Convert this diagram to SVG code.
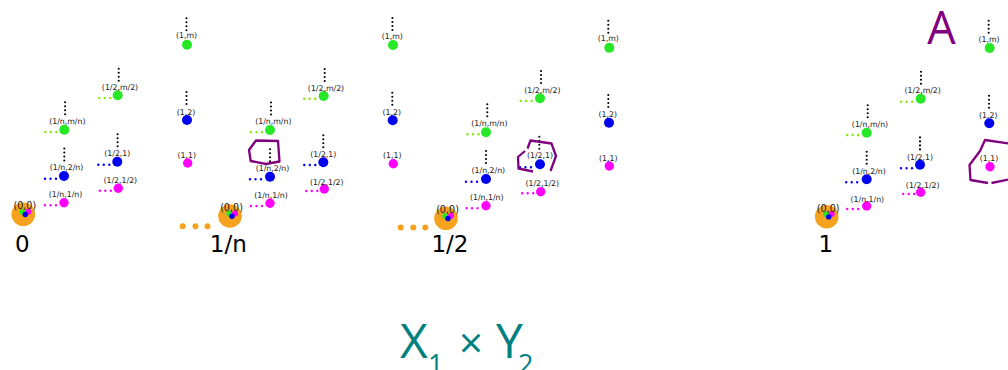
<svg xmlns="http://www.w3.org/2000/svg" width="1008" height="370" viewBox="0 0 1008 370">
<style>
.lbl{font-family:"DejaVu Sans",sans-serif;font-size:7.8px;fill:#1a1a1a;text-anchor:middle}
.olbl{font-family:"DejaVu Sans",sans-serif;font-size:9.6px;fill:#1a1a1a;text-anchor:middle}
.big{font-family:"DejaVu Sans",sans-serif;font-size:23px;fill:#000;text-anchor:middle}
.mg{fill:#ff00ff}.bl{fill:#0000f0}.gr{fill:#26e826}.or{fill:#f5a31e}
.dm,.db,.dg,.vd{fill:none;stroke-linecap:round;stroke-width:2.4;stroke-dasharray:0 5.5}
.dm{stroke:#ff00ff}.db{stroke:#0000f0}.dg{stroke:#80e800}
.vd{stroke:#000;stroke-width:2.1;stroke-dasharray:0 4}
.poly{fill:none;stroke:#800080;stroke-width:2.3;stroke-linejoin:round;stroke-linecap:butt}
</style>
<defs>
<g id="origin"><circle class="or" r="11.8"/><circle class="gr" cx="-0.7" cy="-2.4" r="3"/><circle class="mg" cx="5" cy="-2.6" r="3"/><circle class="bl" cx="2" cy="0.2" r="2.7"/><text class="olbl" x="1.5" y="-5">(0,0)</text></g>
</defs>

<!-- Panel 0 -->
<g id="p0">
<g id="p0-o"><use href="#origin" x="23.3" y="214.3"/></g>
<g id="p0-n11" transform="translate(64,202.7)"><line class="dm" x1="-19" y1="2.6" x2="-7.7" y2="2.6"/><circle class="mg" r="4.7"/><text class="lbl" x="1.5" y="-5.8">(1/n,1/n)</text></g>
<g id="p0-n21" transform="translate(64,176)"><line class="db" x1="-19" y1="2.8" x2="-7.7" y2="2.8"/><line class="vd" x1="0.3" y1="-27.5" x2="0.3" y2="-15.3"/><circle class="bl" r="5"/><text class="lbl" x="2.5" y="-5.8">(1/n,2/n)</text></g>
<g id="p0-nm" transform="translate(64.3,129.7)"><line class="dg" x1="-19" y1="2.2" x2="-7.7" y2="2.2"/><line class="vd" x1="0.8" y1="-27.5" x2="0.8" y2="-15.3"/><circle class="gr" r="5"/><text class="lbl" x="3" y="-5.8">(1/n,m/n)</text></g>
<g id="p0-h11" transform="translate(118.3,188.3)"><line class="dm" x1="-18.5" y1="2.4" x2="-7.2" y2="2.4"/><circle class="mg" r="4.7"/><text class="lbl" x="2" y="-5.2">(1/2,1/2)</text></g>
<g id="p0-h1" transform="translate(117.3,161.7)"><line class="db" x1="-19" y1="3" x2="-7.7" y2="3"/><line class="vd" x1="0.3" y1="-27.5" x2="0.3" y2="-15.3"/><circle class="bl" r="5"/><text class="lbl" x="0" y="-5.8">(1/2,1)</text></g>
<g id="p0-hm" transform="translate(117.7,95.3)"><line class="dg" x1="-18.5" y1="2.8" x2="-7.2" y2="2.8"/><line class="vd" x1="1" y1="-26.5" x2="1" y2="-14.3"/><circle class="gr" r="5"/><text class="lbl" x="2.3" y="-5.8">(1/2,m/2)</text></g>
<g id="p0-o11" transform="translate(187.7,163)"><circle class="mg" r="4.7"/><text class="lbl" x="-1" y="-5.5">(1,1)</text></g>
<g id="p0-o12" transform="translate(187,120)"><line class="vd" x1="-0.5" y1="-28" x2="-0.5" y2="-15.8"/><circle class="bl" r="5"/><text class="lbl" x="-1" y="-5.5">(1,2)</text></g>
<g id="p0-o1m" transform="translate(187,44.7)"><line class="vd" x1="-0.5" y1="-26.5" x2="-0.5" y2="-14.3"/><circle class="gr" r="5"/><text class="lbl" x="-0.5" y="-7">(1,m)</text></g>
<text class="big" x="22.3" y="252">0</text>
</g>

<!-- dots between panels -->
<g id="gap1" class="or"><circle cx="182.7" cy="226.3" r="3"/><circle cx="195.5" cy="226.3" r="3"/><circle cx="207.5" cy="226.3" r="3"/></g>

<!-- Panel 1/n -->
<g id="p1">
<g id="p1-o"><use href="#origin" x="230" y="216"/></g>
<g id="p1-n11" transform="translate(270,203.3)"><line class="dm" x1="-19" y1="2.7" x2="-7.7" y2="2.7"/><circle class="mg" r="4.7"/><text class="lbl" x="1" y="-5.2">(1/n,1/n)</text></g>
<g id="p1-n21" transform="translate(270,176.7)"><line class="db" x1="-20" y1="2.6" x2="-8.7" y2="2.6"/><line class="vd" x1="0" y1="-27.5" x2="0" y2="-15.3"/><circle class="bl" r="5"/><text class="lbl" x="2.5" y="-6.2">(1/n,2/n)</text></g>
<g id="p1-nm" transform="translate(270,130)"><line class="dg" x1="-19" y1="2.3" x2="-7.7" y2="2.3"/><line class="vd" x1="1" y1="-27.5" x2="1" y2="-15.3"/><circle class="gr" r="5"/><text class="lbl" x="3.3" y="-6.5">(1/n,m/n)</text></g>
<g id="p1-h11" transform="translate(324.3,189)"><line class="dm" x1="-18" y1="2" x2="-6.7" y2="2"/><circle class="mg" r="4.7"/><text class="lbl" x="2.4" y="-4.5">(1/2,1/2)</text></g>
<g id="p1-h1" transform="translate(323.3,162.3)"><line class="db" x1="-19" y1="2.7" x2="-7.7" y2="2.7"/><line class="vd" x1="0" y1="-27" x2="0" y2="-14.8"/><circle class="bl" r="5"/><text class="lbl" x="0" y="-5.8">(1/2,1)</text></g>
<g id="p1-hm" transform="translate(323.7,96)"><line class="dg" x1="-19.5" y1="2.7" x2="-8.2" y2="2.7"/><line class="vd" x1="1" y1="-27" x2="1" y2="-14.8"/><circle class="gr" r="5"/><text class="lbl" x="2.3" y="-5.2">(1/2,m/2)</text></g>
<g id="p1-o11" transform="translate(393.3,163.7)"><circle class="mg" r="4.7"/><text class="lbl" x="-1" y="-5.8">(1,1)</text></g>
<g id="p1-o12" transform="translate(392.7,120.3)"><line class="vd" x1="-0.4" y1="-27.5" x2="-0.4" y2="-15.3"/><circle class="bl" r="5"/><text class="lbl" x="-1" y="-5.5">(1,2)</text></g>
<g id="p1-o1m" transform="translate(393,45)"><line class="vd" x1="-0.6" y1="-27" x2="-0.6" y2="-14.8"/><circle class="gr" r="5"/><text class="lbl" x="-0.7" y="-6.5">(1,m)</text></g>
<polygon id="p1-sel" class="poly" points="256,140.5 278,141 279.5,161.5 266,164 250.7,161 249,150"/>
<text class="big" x="228.3" y="252">1/n</text>
</g>

<g id="gap2" class="or"><circle cx="400.7" cy="227.6" r="3"/><circle cx="413.3" cy="227.6" r="3"/><circle cx="425.3" cy="227.6" r="3"/></g>

<!-- Panel 1/2 -->
<g id="p2">
<g id="p2-o"><use href="#origin" x="446" y="218.3"/></g>
<g id="p2-n11" transform="translate(486,205.7)"><line class="dm" x1="-19.5" y1="2.6" x2="-8.2" y2="2.6"/><circle class="mg" r="4.7"/><text class="lbl" x="0.7" y="-5.5">(1/n,1/n)</text></g>
<g id="p2-n21" transform="translate(486,179)"><line class="db" x1="-20" y1="2.7" x2="-8.7" y2="2.7"/><line class="vd" x1="0" y1="-28" x2="0" y2="-15.8"/><circle class="bl" r="5"/><text class="lbl" x="2.3" y="-6.5">(1/n,2/n)</text></g>
<g id="p2-nm" transform="translate(486,132.3)"><line class="dg" x1="-18.5" y1="2" x2="-7.2" y2="2"/><line class="vd" x1="1.3" y1="-28" x2="1.3" y2="-15.8"/><circle class="gr" r="5"/><text class="lbl" x="3.3" y="-6">(1/n,m/n)</text></g>
<g id="p2-h11" transform="translate(540.7,191.7)"><line class="dm" x1="-18.5" y1="1.6" x2="-7.2" y2="1.6"/><circle class="mg" r="4.7"/><text class="lbl" x="1.6" y="-5.5">(1/2,1/2)</text></g>
<g id="p2-h1" transform="translate(540,164.3)"><line class="db" x1="-20" y1="3" x2="-8.7" y2="3"/><line class="vd" x1="-0.7" y1="-27.5" x2="-0.7" y2="-15.3"/><circle class="bl" r="5"/><text class="lbl" x="0" y="-6.3">(1/2,1)</text></g>
<g id="p2-hm" transform="translate(540,98.3)"><line class="dg" x1="-19.3" y1="2.7" x2="-8" y2="2.7"/><line class="vd" x1="1" y1="-27.3" x2="1" y2="-15.1"/><circle class="gr" r="5"/><text class="lbl" x="2.3" y="-5.8">(1/2,m/2)</text></g>
<g id="p2-o11" transform="translate(609.3,166)"><circle class="mg" r="4.7"/><text class="lbl" x="-1" y="-5.5">(1,1)</text></g>
<g id="p2-o12" transform="translate(609,122.7)"><line class="vd" x1="-0.7" y1="-27.7" x2="-0.7" y2="-15.5"/><circle class="bl" r="5"/><text class="lbl" x="-1.3" y="-6.2">(1,2)</text></g>
<g id="p2-o1m" transform="translate(609.3,47.7)"><line class="vd" x1="-1" y1="-27" x2="-1" y2="-14.8"/><circle class="gr" r="5"/><text class="lbl" x="-1" y="-6.9">(1,m)</text></g>
<polyline id="p2-sel-a" class="poly" points="527.5,148.5 530.5,140.5 551.5,143.5 556,156 550.5,171"/>
<polyline id="p2-sel-b" class="poly" points="525,151 518,157 518.5,168.5 533,171.5"/>
<text class="big" x="450" y="252">1/2</text>
</g>

<!-- Panel 1 -->
<g id="p3">
<g id="p3-o"><use href="#origin" x="826.7" y="216.7"/></g>
<g id="p3-n11" transform="translate(866.7,206)"><line class="dm" x1="-19.5" y1="3" x2="-8.2" y2="3"/><circle class="mg" r="4.7"/><text class="lbl" x="0.6" y="-4.5">(1/n,1/n)</text></g>
<g id="p3-n21" transform="translate(866.7,179.3)"><line class="db" x1="-20.5" y1="3" x2="-9.2" y2="3"/><line class="vd" x1="0" y1="-27.5" x2="0" y2="-15.3"/><circle class="bl" r="5"/><text class="lbl" x="2.3" y="-5.5">(1/n,2/n)</text></g>
<g id="p3-nm" transform="translate(866.7,132.7)"><line class="dg" x1="-19.5" y1="2.3" x2="-8.2" y2="2.3"/><line class="vd" x1="1" y1="-27.5" x2="1" y2="-15.3"/><circle class="gr" r="5"/><text class="lbl" x="3.3" y="-5.9">(1/n,m/n)</text></g>
<g id="p3-h11" transform="translate(920.7,192.3)"><line class="dm" x1="-17.5" y1="1.7" x2="-6.2" y2="1.7"/><circle class="mg" r="4.7"/><text class="lbl" x="2" y="-4.8">(1/2,1/2)</text></g>
<g id="p3-h1" transform="translate(920,164.7)"><line class="db" x1="-19" y1="3.6" x2="-7.7" y2="3.6"/><line class="vd" x1="0" y1="-27.3" x2="0" y2="-15.1"/><circle class="bl" r="5"/><text class="lbl" x="0" y="-5.2">(1/2,1)</text></g>
<g id="p3-hm" transform="translate(920.7,98.7)"><line class="dg" x1="-19.5" y1="3" x2="-8.2" y2="3"/><line class="vd" x1="0.3" y1="-27" x2="0.3" y2="-14.8"/><circle class="gr" r="5"/><text class="lbl" x="2" y="-5.9">(1/2,m/2)</text></g>
<g id="p3-o11" transform="translate(990,166.7)"><circle class="mg" r="4.7"/><text class="lbl" x="-1" y="-5.9">(1,1)</text></g>
<g id="p3-o12" transform="translate(989.3,123.3)"><line class="vd" x1="-0.3" y1="-27.6" x2="-0.3" y2="-15.4"/><circle class="bl" r="5"/><text class="lbl" x="-1" y="-5.8">(1,2)</text></g>
<g id="p3-o1m" transform="translate(989.7,48)"><line class="vd" x1="-1" y1="-27.3" x2="-1" y2="-15.1"/><circle class="gr" r="5"/><text class="lbl" x="-0.7" y="-6.5">(1,m)</text></g>
<polyline id="p3-sel-a" class="poly" points="1009,143.5 985,140 980,151 969.5,165 970.5,180 988,183"/>
<polyline id="p3-sel-b" class="poly" points="991.5,183 1009,179.5"/>
<text class="big" x="825.7" y="252">1</text>
</g>

<text id="labelA" x="941.5" y="44" font-family="'Open Sans',sans-serif" font-size="45" fill="#800080" text-anchor="middle">A</text>

<text id="title" font-family="'Open Sans',sans-serif" fill="#008080"><tspan x="400" y="358" font-size="48">X</tspan><tspan x="428" y="374" font-size="27">1</tspan><tspan x="471" y="358" font-size="42" text-anchor="middle">×</tspan><tspan x="496" y="358" font-size="48">Y</tspan><tspan x="518" y="374" font-size="27">2</tspan></text>
</svg>
